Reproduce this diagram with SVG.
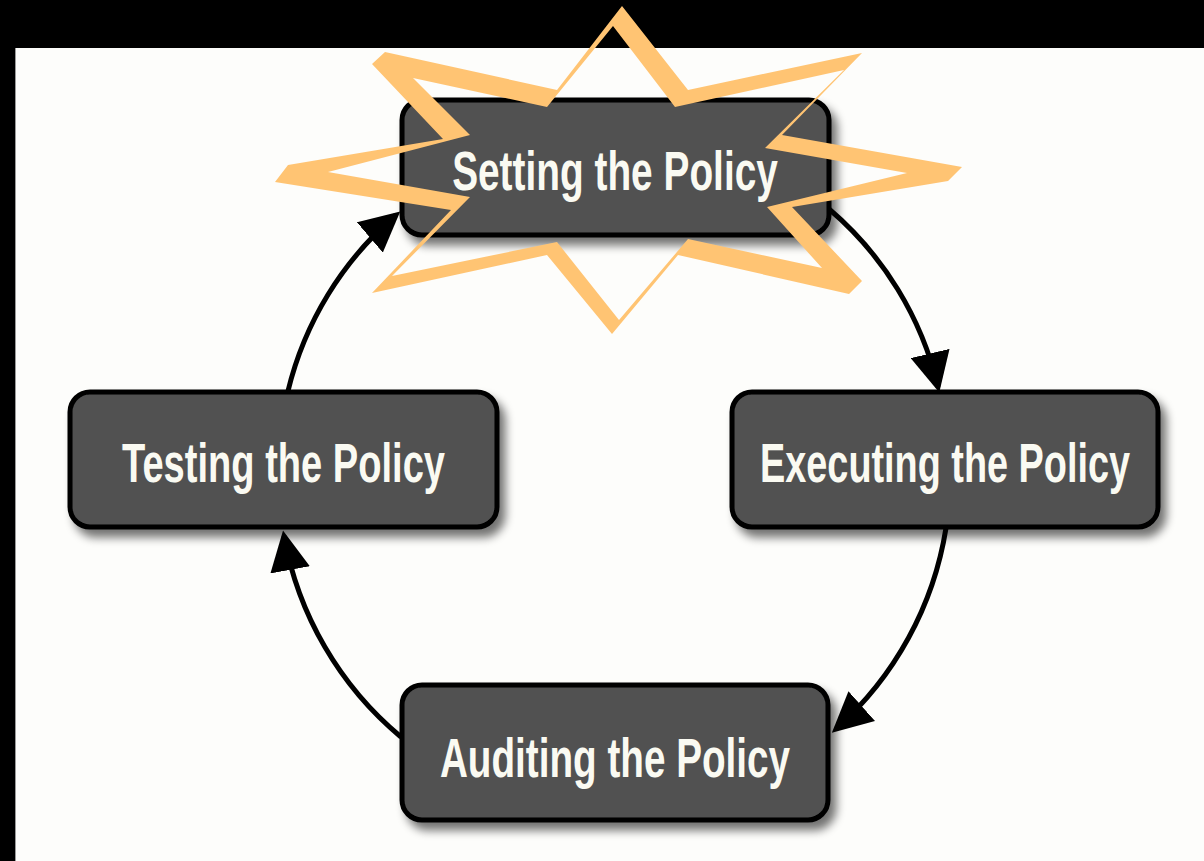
<svg xmlns="http://www.w3.org/2000/svg" width="1204" height="861" viewBox="0 0 1204 861">
<defs>
<style>
.box{fill:#515151;stroke:#000;stroke-width:5;filter:url(#sh)}
.lbl{font-family:"Liberation Sans",Arial,sans-serif;font-weight:bold;font-size:56px;fill:#FAFAF2;text-anchor:middle}
.con{fill:none;stroke:#000;stroke-width:5;marker-end:url(#ah)}
.star{fill:#FFC473;fill-rule:evenodd}
</style>
<filter id="sh" x="-10%" y="-15%" width="125%" height="145%">
<feGaussianBlur in="SourceAlpha" stdDeviation="5"/>
<feOffset dx="6" dy="8" result="b"/>
<feComponentTransfer><feFuncA type="linear" slope="0.55"/></feComponentTransfer>
<feMerge><feMergeNode/><feMergeNode in="SourceGraphic"/></feMerge>
</filter>
<marker id="ah" markerUnits="userSpaceOnUse" markerWidth="40" markerHeight="40" viewBox="0 0 36 36" refX="31" refY="18" orient="auto">
<path d="M0,0 L36,18 L0,36 Z" fill="#000"/>
</marker>
</defs>
<rect x="0" y="0" width="1204" height="861" fill="#000"/>
<rect x="15" y="48" width="1189" height="813" fill="#FDFDFB"/>
<line x1="15.5" y1="48" x2="15.5" y2="861" stroke="#9a9a9a" stroke-width="1"/>

<g id="connectors">
<path class="con" d="M829,209 A335,335 0 0 1 938,387"/>
<path class="con" d="M946,528 A340,340 0 0 1 836,729"/>
<path class="con" d="M401,737 A340,340 0 0 1 284,536"/>
<path class="con" d="M288,391 A335,335 0 0 1 396,215"/>
</g>

<g id="node-testing">
<rect class="box" x="70" y="392" width="427" height="135" rx="20"/>
<text class="lbl" transform="translate(283.5,482) scale(0.68,1)" x="0" y="0" textLength="475" lengthAdjust="spacingAndGlyphs">Testing the Policy</text>
</g>
<g id="node-executing">
<rect class="box" x="732" y="392" width="426" height="135" rx="20"/>
<text class="lbl" transform="translate(945,482) scale(0.68,1)" x="0" y="0" textLength="544" lengthAdjust="spacingAndGlyphs">Executing the Policy</text>
</g>
<g id="node-auditing">
<rect class="box" x="402" y="685" width="426" height="135" rx="20"/>
<text class="lbl" transform="translate(615,777) scale(0.68,1)" x="0" y="0" textLength="515" lengthAdjust="spacingAndGlyphs">Auditing the Policy</text>
</g>
<g id="node-setting">
<rect class="box" x="402" y="100" width="427" height="135" rx="20"/>
<path class="star" d="M372,64 L385,52 L557,90 L622,6 L688,90 L862,53 L782,135 L962,167 L948,181 L792,207 L862,281 L849,294 L678,255 L612,334 L547,255 L372,293 L451,210 L275,182 L288,165 L443,139 Z M413,78 L547,107 L613,26 L675,107 L844,70 L765,148 L907,173 L767,207 L822,268 L688,239 L619,320 L557,242 L392,276 L470,197 L328,172 L470,135 Z"/>
<text class="lbl" transform="translate(615,190) scale(0.68,1)" x="0" y="0" textLength="479" lengthAdjust="spacingAndGlyphs">Setting the Policy</text>
</g>
</svg>
